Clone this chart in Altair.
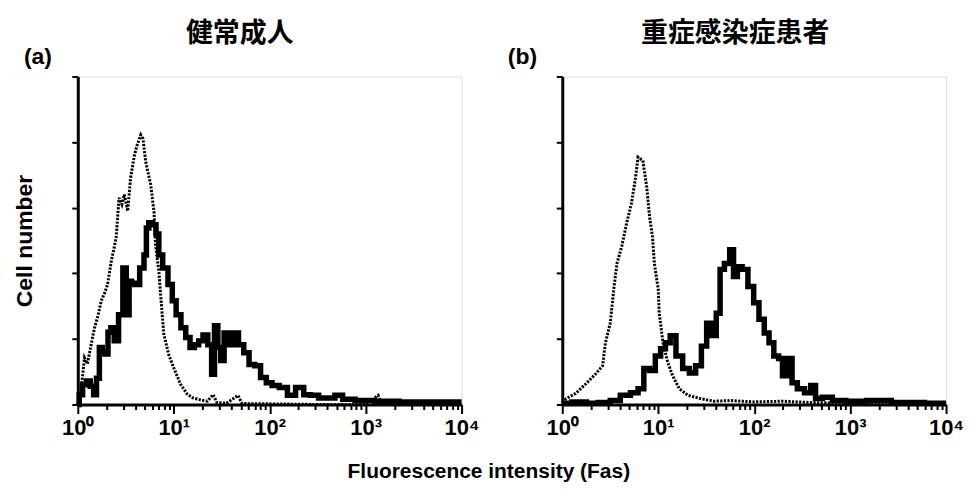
import altair as alt
import pandas as pd

# ---------------- data (x in log10 decades, y in axis-tick units) ----------------
# Panel (a) healthy adult: control (dotted) histogram
a_ctrl_log = [0.00, 0.02, 0.04, 0.07, 0.10, 0.14, 0.175, 0.21, 0.244, 0.28, 0.31, 0.35, 0.40, 0.43,
              0.46, 0.485, 0.52, 0.55, 0.59, 0.62, 0.656, 0.68, 0.708, 0.76, 0.794, 0.81, 0.845,
              0.863, 0.88, 0.897, 0.948, 1.00, 1.07, 1.14, 1.20, 1.28, 1.35, 1.41, 1.45, 1.55,
              1.67, 1.71, 1.80, 2.00, 2.50, 3.00, 3.13, 3.17, 3.50, 4.00]
a_ctrl_val = [0.00, 0.10, 0.30, 0.71, 0.62, 0.92, 1.17, 1.35, 1.58, 1.70, 1.83, 2.19, 2.54, 3.15,
              3.05, 3.20, 2.95, 3.45, 3.80, 3.96, 4.11, 4.05, 3.70, 3.35, 2.94, 2.44, 2.03,
              1.68, 1.37, 1.07, 0.76, 0.56, 0.31, 0.16, 0.10, 0.07, 0.05, 0.15, 0.03, 0.02,
              0.14, 0.02, 0.01, 0.01, 0.00, 0.00, 0.14, 0.00, 0.00, 0.00]

# Panel (a) healthy adult: Fas (thick solid) histogram
a_fas_log = [0.00, 0.03, 0.07, 0.11, 0.15, 0.18, 0.21, 0.24, 0.27, 0.30, 0.33, 0.36, 0.40, 0.45,
             0.49, 0.52, 0.55, 0.57, 0.62, 0.67, 0.71, 0.72, 0.76, 0.80, 0.83, 0.86, 0.91, 0.97,
             1.00, 1.05, 1.10, 1.15, 1.19, 1.24, 1.28, 1.33, 1.38, 1.41, 1.44, 1.48, 1.50, 1.55,
             1.60, 1.65, 1.70, 1.76, 1.81, 1.88, 1.93, 2.00, 2.05, 2.15, 2.22, 2.32, 2.39, 2.46,
             2.56, 2.64, 2.72, 2.80, 2.98, 3.20, 3.50, 3.80, 4.00]
a_fas_val = [0.00, 0.15, 0.30, 0.36, 0.28, 0.15, 0.40, 0.87, 0.80, 0.77, 1.10, 1.17, 0.97, 1.37,
             2.08, 1.37, 1.88, 1.85, 1.83, 2.08, 2.28, 2.69, 2.77, 2.74, 2.60, 2.28, 2.08, 1.83,
             1.58, 1.37, 1.17, 1.02, 0.87, 0.91, 0.97, 1.06, 0.91, 0.46, 1.20, 0.87, 0.67, 1.09,
             0.91, 1.09, 0.91, 0.79, 0.61, 0.59, 0.41, 0.33, 0.29, 0.26, 0.14, 0.26, 0.15, 0.14,
             0.10, 0.10, 0.14, 0.08, 0.06, 0.05, 0.04, 0.04, 0.04]

# Panel (b) severe infection patient: control (dotted)
b_ctrl_log = [0.00, 0.04, 0.14, 0.25, 0.35, 0.42, 0.45, 0.50, 0.54, 0.57, 0.62, 0.67, 0.72, 0.76,
              0.79, 0.84, 0.88, 0.91, 0.94, 0.96, 1.00, 1.01, 1.05, 1.10, 1.15, 1.22, 1.31, 1.44,
              1.58, 1.75, 2.00, 2.30, 2.60, 2.90, 3.50, 4.00]
b_ctrl_val = [0.03, 0.09, 0.17, 0.32, 0.47, 0.59, 0.94, 1.24, 1.80, 2.15, 2.41, 2.76, 3.06, 3.42,
              3.77, 3.72, 3.32, 2.86, 2.56, 2.15, 1.76, 1.40, 0.94, 0.64, 0.44, 0.24, 0.14, 0.09,
              0.05, 0.06, 0.04, 0.05, 0.03, 0.02, 0.02, 0.02]

# Panel (b) severe infection patient: Fas (thick solid)
b_fas_log = [0.00, 0.20, 0.30, 0.45, 0.55, 0.66, 0.76, 0.82, 0.88, 0.94, 1.00, 1.05, 1.10, 1.15,
             1.22, 1.29, 1.36, 1.42, 1.48, 1.53, 1.58, 1.63, 1.66, 1.72, 1.77, 1.80, 1.85, 1.90,
             1.97, 2.02, 2.08, 2.13, 2.18, 2.23, 2.28, 2.31, 2.38, 2.41, 2.49, 2.56, 2.62, 2.66,
             2.76, 2.87, 3.04, 3.31, 3.55, 4.00]
b_fas_val = [0.02, 0.04, 0.02, 0.03, 0.06, 0.14, 0.18, 0.24, 0.55, 0.52, 0.74, 0.85, 0.94, 1.05,
             0.74, 0.55, 0.48, 0.59, 0.89, 1.24, 1.05, 1.39, 2.06, 2.15, 2.36, 1.95, 2.10, 2.06,
             1.80, 1.55, 1.30, 1.09, 0.94, 0.74, 0.70, 0.44, 0.70, 0.33, 0.24, 0.18, 0.29, 0.09,
             0.11, 0.06, 0.05, 0.06, 0.03, 0.02]

panel_titles = ["健常成人", "重症感染症患者"]
panel_letters = ["(a)", "(b)"]
y_title = "Cell number"
x_title = "Fluorescence intensity (Fas)"
y_ticks = [0, 1, 2, 3, 4, 5]
x_ticks = [m * 10 ** k for k in range(4) for m in range(1, 10)] + [10000]

LATIN = "Liberation Sans"
CJK = "Noto Sans CJK JP"
W, H = 385, 329


def frame(logs, vals):
    return pd.DataFrame({"I": [10 ** d for d in logs], "v": vals})


label_expr = ("datum.value == 1 ? '10⁰' : datum.value == 10 ? '10¹' : "
              "datum.value == 100 ? '10²' : datum.value == 1000 ? '10³' : "
              "datum.value == 10000 ? '10⁴' : ''")
major_test = ("datum.value == 1 || datum.value == 10 || datum.value == 100 || "
              "datum.value == 1000 || datum.value == 10000")


def panel(ctrl_df, fas_df, title, letter, show_ytitle, title_dx):
    x_axis = alt.Axis(values=x_ticks, labelExpr=label_expr, title=None, grid=False,
                      labelFont=LATIN, labelFontWeight="bold", labelFontSize=22,
                      labelColor="black", labelFlush=False, labelOverlap=False,
                      labelPadding=4, domainColor="black", domainWidth=3,
                      tickColor="black", tickWidth=2,
                      tickSize={"condition": {"test": major_test, "value": 9}, "value": 5})
    y_kw = dict(values=y_ticks, labels=False, grid=False, domainColor="black",
                domainWidth=3, tickColor="black", tickWidth=2, tickSize=6)
    if show_ytitle:
        y_axis = alt.Axis(title=y_title, titleFont=LATIN, titleFontWeight="bold",
                          titleFontSize=23, titleColor="black", titlePadding=34, **y_kw)
    else:
        y_axis = alt.Axis(title=None, **y_kw)
    x = alt.X("I:Q", scale=alt.Scale(type="log", domain=[1, 10000], nice=False), axis=x_axis)
    y = alt.Y("v:Q", scale=alt.Scale(domain=[0, 5], nice=False), axis=y_axis)
    ctrl = alt.Chart(ctrl_df).mark_line(color="black", strokeWidth=3,
                                        strokeDash=[2.2, 1.4]).encode(x=x, y=y)
    fas = alt.Chart(fas_df).mark_line(color="black", strokeWidth=5.5,
                                      interpolate="step").encode(x=x, y=y)
    lab = alt.Chart(pd.DataFrame({"t": [letter]})).mark_text(
        font=LATIN, fontWeight="bold", fontSize=23, color="black", align="center",
        baseline="middle").encode(x=alt.value(-40), y=alt.value(-20), text="t:N")
    return alt.layer(ctrl, fas, lab).properties(
        width=W, height=H,
        title=alt.TitleParams(title, font=CJK, fontWeight="bold", fontSize=27,
                              color="black", offset=-2, dx=title_dx, anchor="middle"))


pa = panel(frame(a_ctrl_log, a_ctrl_val), frame(a_fas_log, a_fas_val),
           panel_titles[0], panel_letters[0], True, -30)
pb = panel(frame(b_ctrl_log, b_ctrl_val), frame(b_fas_log, b_fas_val),
           panel_titles[1], panel_letters[1], False, -19)

chart = alt.hconcat(pa, pb, spacing=26).properties(
    title=alt.TitleParams(x_title, orient="bottom", anchor="middle", font=LATIN,
                          fontWeight="bold", fontSize=21, color="black", offset=22),
    padding={"left": 5, "top": 10, "right": 0, "bottom": 0},
).configure_view(stroke=None).configure(background="white")

chart.save("out.html", embed_options={"renderer": "svg", "actions": False})
